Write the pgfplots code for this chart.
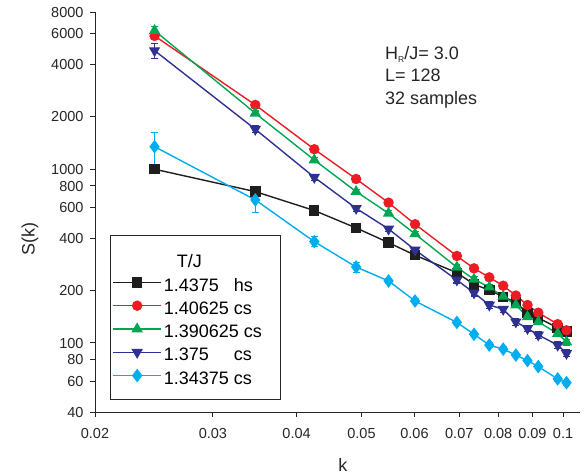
\documentclass[border=0pt]{standalone}
\usepackage{fontspec}
\setmainfont{Liberation Sans}
\usepackage{pgfplots}
\pgfplotsset{compat=1.18}

\definecolor{cblack}{RGB}{30,30,30}
\definecolor{cred}{RGB}{237,28,36}
\definecolor{cgreen}{RGB}{0,166,81}
\definecolor{cnavy}{RGB}{46,49,146}
\definecolor{ccyan}{RGB}{0,174,239}

\begin{document}
\begin{tikzpicture}
\begin{axis}[
  xmode=log, ymode=log,
  scale only axis, width=485pt, height=400pt,
  xmin=0.02, xmax=0.106, ymin=40, ymax=8000,
  axis x line=bottom, axis y line=left,
  axis line style={-, line width=0.9pt, black!85},
  tick align=outside, major tick length=5pt,
  tick style={line width=0.9pt, black!85},
  xminorticks=false, yminorticks=false,
  xtick={0.02,0.03,0.04,0.05,0.06,0.07,0.08,0.09,0.1},
  xticklabels={0.02,0.03,0.04,0.05,0.06,0.07,0.08,0.09,0.1},
  ytick={40,60,80,100,200,400,600,800,1000,2000,4000,6000,8000},
  yticklabels={40,60,80,100,200,400,600,800,1000,2000,4000,6000,8000},
  tick label style={font=\fontsize{14.5}{17}\selectfont, text=black!85,
    text height=10.5pt, text depth=0pt},
  xticklabel style={anchor=north, yshift=-7pt},
  yticklabel style={anchor=east, xshift=-3pt},
  xlabel={k}, ylabel={S(k)},
  label style={font=\fontsize{18}{21}\selectfont, text=black!85},
  xlabel style={at={(axis description cs:0.511,-0.1325)}, anchor=center},
  ylabel style={at={(axis description cs:-0.134,0.4325)}, anchor=center},
  clip=false,
  every axis plot/.append style={line width=1.4pt, mark size=4.5pt, mark options={solid},
    error bars/y dir=both, error bars/y explicit,
    error bars/error mark options={rotate=90, mark size=3.5pt, line width=1.2pt}},
  legend style={at={(axis description cs:0.031,0.4425)}, anchor=north west,
    draw=black!85, line width=0.9pt, inner xsep=2pt, inner ysep=12pt,
    font=\fontsize{18}{21}\selectfont, row sep=0pt,
    nodes={inner sep=2pt, text height=18.3pt, text depth=1pt}},
  legend cell align=left,
  legend image code/.code={\draw[mark repeat=2,mark phase=2,#1]
    plot coordinates {(0pt,0pt) (24pt,0pt) (48pt,0pt)};},
]
\addlegendimage{empty legend}
\addlegendentry{\makebox[113pt][l]{\hspace{13pt}T/J}}

% T/J = 1.4375 hs
\addplot[color=cblack, mark=square*] coordinates {
  (0.024544,997) +- (0,30)
  (0.034711,741) +- (0,30)
  (0.042512,577) +- (0,14)
  (0.049087,458) +- (0,10)
  (0.054882,377) +- (0,8)
  (0.060120,319) +- (0,7)
  (0.069422,253) +- (0,8)
  (0.073631,217) +- (0,6)
  (0.077615,201) +- (0,6)
  (0.081403,184) +- (0,5)
  (0.085022,171) +- (0,5)
  (0.088494,148) +- (0,5)
  (0.091835,139) +- (0,5)
  (0.098175,122) +- (0,4)
  (0.101196,116) +- (0,4)
};
\addlegendentry{\makebox[113pt][l]{\makebox[70pt][l]{1.4375}hs}}

% T/J = 1.40625 cs
\addplot[color=cred, mark=*] coordinates {
  (0.024544,5830) +- (0,150)
  (0.034711,2336) +- (0,60)
  (0.042512,1299) +- (0,35)
  (0.049087,876) +- (0,22)
  (0.054882,640) +- (0,16)
  (0.060120,481) +- (0,12)
  (0.069422,316) +- (0,8)
  (0.073631,268) +- (0,7)
  (0.077615,238) +- (0,6)
  (0.081403,213) +- (0,6)
  (0.085022,187) +- (0,5)
  (0.088494,165) +- (0,5)
  (0.091835,149) +- (0,4)
  (0.098175,128) +- (0,4)
  (0.101196,118) +- (0,3)
};
\addlegendentry{\makebox[113pt][l]{1.40625 cs}}

% T/J = 1.390625 cs
\addplot[color=cgreen, mark=triangle*, mark size=5.2pt] coordinates {
  (0.024544,6250) +- (0,330)
  (0.034711,2093) +- (0,60)
  (0.042512,1127) +- (0,35)
  (0.049087,741) +- (0,25)
  (0.054882,556) +- (0,18)
  (0.060120,423) +- (0,14)
  (0.069422,272) +- (0,9)
  (0.073631,232) +- (0,8)
  (0.077615,209) +- (0,7)
  (0.081403,185) +- (0,6)
  (0.085022,165) +- (0,6)
  (0.088494,141) +- (0,5)
  (0.091835,132) +- (0,5)
  (0.098175,113) +- (0,4)
  (0.101196,101) +- (0,4)
};
\addlegendentry{\makebox[113pt][l]{1.390625 cs}}

% T/J = 1.375 cs
\addplot[color=cnavy, mark=triangle*, mark size=5.2pt, mark options={rotate=180}] coordinates {
  (0.024544,4800) +- (0,480)
  (0.034711,1693) +- (0,80)
  (0.042512,896) +- (0,35)
  (0.049087,594) +- (0,22)
  (0.054882,452) +- (0,16)
  (0.060120,342) +- (0,12)
  (0.069422,230) +- (0,9)
  (0.073631,194) +- (0,8)
  (0.077615,165) +- (0,7)
  (0.081403,156) +- (0,6)
  (0.085022,132) +- (0,6)
  (0.088494,121) +- (0,5)
  (0.091835,111) +- (0,5)
  (0.098175,97) +- (0,4)
  (0.101196,87) +- (0,4)
};
\addlegendentry{\makebox[113pt][l]{\makebox[70pt][l]{1.375}cs}}

% T/J = 1.34375 cs
\addplot[color=ccyan, mark=diamond*, mark size=5.7pt] coordinates {
  (0.024544,1344) +- (0,280)
  (0.034711,664) +- (0,105)
  (0.042512,382) +- (0,25)
  (0.049087,273) +- (0,18)
  (0.054882,227) +- (0,8)
  (0.060120,174) +- (0,5)
  (0.069422,131) +- (0,4)
  (0.073631,112) +- (0,3)
  (0.077615,97) +- (0,3)
  (0.081403,92) +- (0,3)
  (0.085022,85) +- (0,2)
  (0.088494,79) +- (0,2)
  (0.091835,73) +- (0,2)
  (0.098175,62) +- (0,2)
  (0.101196,59) +- (0,2)
};
\addlegendentry{\makebox[113pt][l]{1.34375 cs}}

\node[anchor=north west, align=left, inner sep=0pt, text=black!85,
  font=\fontsize{18}{22.5}\selectfont]
  at (axis description cs:0.598,0.915)
  {H\raisebox{-3.5pt}{\fontsize{8.5}{9}\selectfont R}/J= 3.0\\L= 128\\32 samples};
\end{axis}
\pgfresetboundingbox
\path ([xshift=-95pt,yshift=-64pt]current axis.south west)
  rectangle ([xshift=6pt,yshift=12pt]current axis.north east);
\end{tikzpicture}
\end{document}
